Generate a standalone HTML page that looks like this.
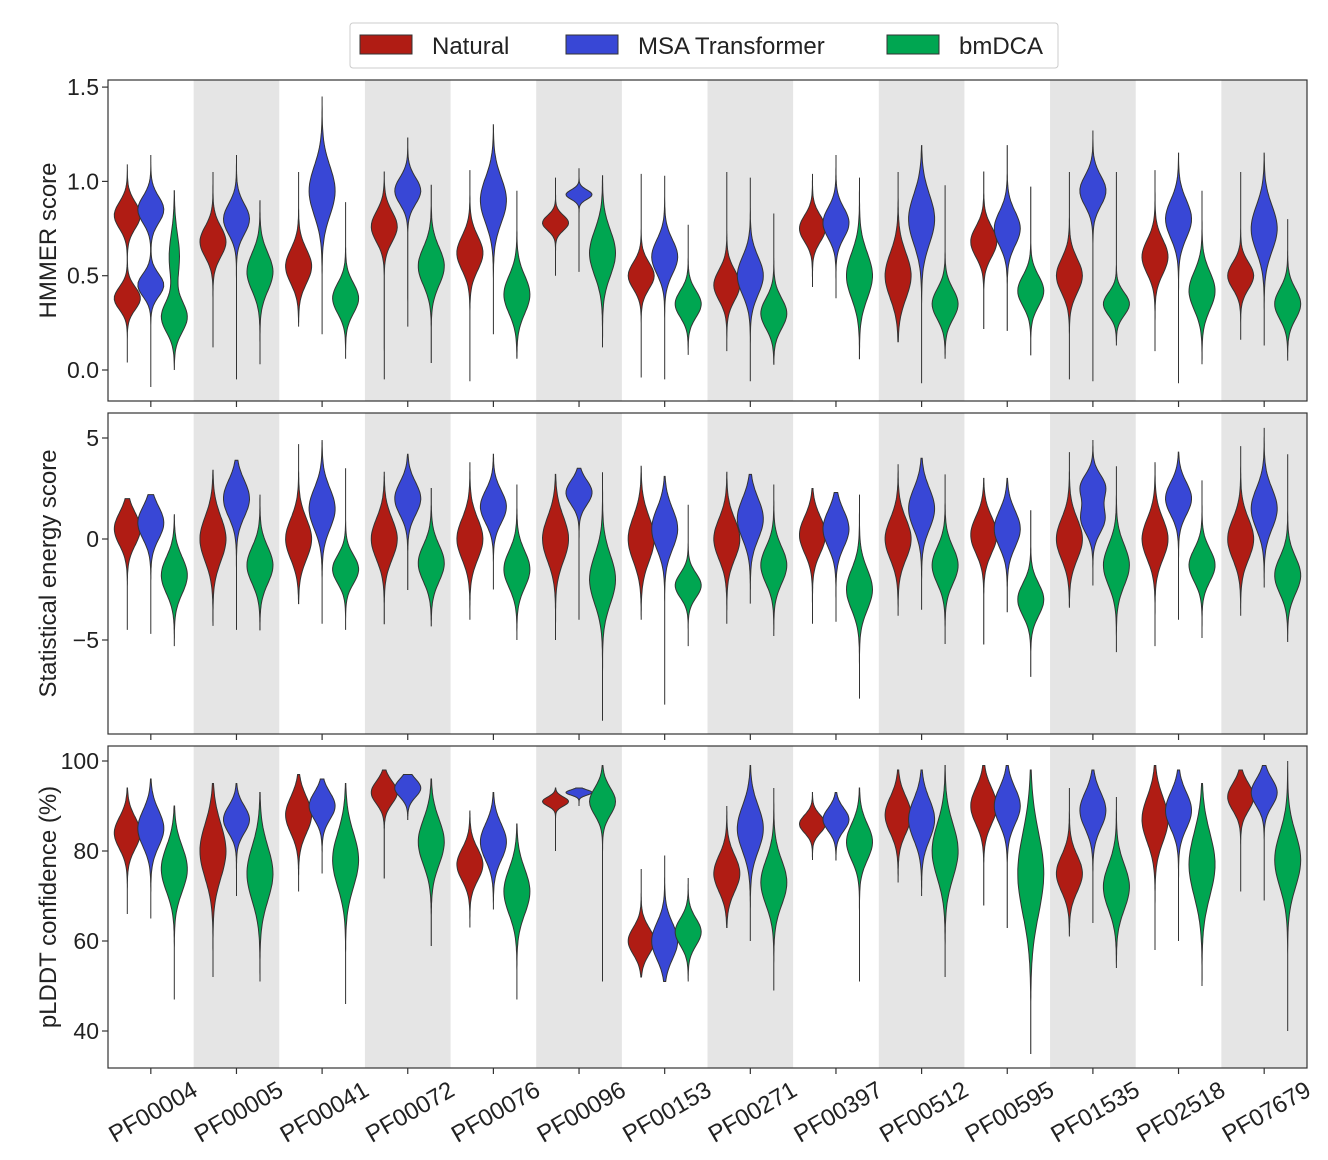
<!DOCTYPE html>
<html><head><meta charset="utf-8"><style>
body{margin:0;background:#fff;}
svg{display:block;font-family:"Liberation Sans",sans-serif;}
</style></head><body>
<svg id="s" width="1328" height="1160" xmlns="http://www.w3.org/2000/svg"></svg>
<script>
const S=document.getElementById('s');
let h='';
const X0=108,X1=1307,GW=(X1-X0)/14;
const names=["PF00004","PF00005","PF00041","PF00072","PF00076","PF00096","PF00153","PF00271","PF00397","PF00512","PF00595","PF01535","PF02518","PF07679"];
const cols=["#b01c14","#3847d6","#00a651"];
const panels=[
 {y0:80,y1:401,map:v=>370-(v-0)*188.6,ticks:[[0,"0.0"],[0.5,"0.5"],[1,"1.0"],[1.5,"1.5"]],label:"HMMER score",data:[
 [[0.04,1.09,[[0.38,.06,1],[0.82,.07,1]]],[-0.09,1.14,[[0.45,.06,1],[0.85,.07,1]]],[0,0.95,[[0.28,.08,1],[0.6,.12,.4]]]],
 [[0.12,1.05,[[0.68,.08,1]]],[-0.05,1.14,[[0.8,.08,1]]],[0.03,0.9,[[0.52,.1,1]]]],
 [[0.23,1.05,[[0.55,.09,1]]],[0.19,1.45,[[0.95,.13,1]]],[0.06,0.89,[[0.38,.08,1]]]],
 [[-0.05,1.05,[[0.76,.08,1]]],[0.23,1.23,[[0.95,.07,1]]],[0.04,0.98,[[0.55,.1,1]]]],
 [[-0.06,1.06,[[0.62,.09,1]]],[0.19,1.3,[[0.9,.12,1]]],[0.06,0.95,[[0.4,.1,1]]]],
 [[0.5,1.02,[[0.78,.04,1]]],[0.52,1.07,[[0.93,.025,1]]],[0.12,1.03,[[0.62,.12,1]]]],
 [[-0.04,1.04,[[0.5,.07,1]]],[-0.05,1.03,[[0.6,.09,1]]],[0.08,0.77,[[0.35,.07,1]]]],
 [[0.1,1.05,[[0.45,.08,1]]],[-0.06,1.02,[[0.5,.1,1]]],[0.03,0.83,[[0.3,.08,1]]]],
 [[0.44,1.04,[[0.75,.07,1]]],[0.38,1.14,[[0.78,.08,1]]],[0.06,1.02,[[0.5,.12,1]]]],
 [[0.15,1.05,[[0.5,.12,1]]],[-0.07,1.19,[[0.8,.13,1]]],[0.06,0.98,[[0.35,.08,1]]]],
 [[0.22,1.05,[[0.68,.08,1]]],[0.21,1.19,[[0.75,.09,1]]],[0.08,0.97,[[0.42,.08,1]]]],
 [[-0.05,1.05,[[0.5,.09,1]]],[-0.06,1.27,[[0.95,.08,1]]],[0.13,1.05,[[0.35,.06,1]]]],
 [[0.1,1.06,[[0.6,.09,1]]],[-0.07,1.15,[[0.8,.1,1]]],[0.03,0.95,[[0.42,.1,1]]]],
 [[0.16,1.05,[[0.5,.07,1]]],[0.13,1.15,[[0.75,.12,1]]],[0.05,0.8,[[0.35,.08,1]]]]]},
 {y0:413,y1:734,map:v=>539-v*20.2,ticks:[[-5,"−5"],[0,"0"],[5,"5"]],label:"Statistical energy score",data:[
 [[-4.5,2,[[0.5,.8,1]]],[-4.7,2.2,[[0.8,.8,1]]],[-5.3,1.2,[[-1.8,.9,1]]]],
 [[-4.3,3.4,[[0,1.1,1]]],[-4.5,3.9,[[2,.9,1]]],[-4.5,2.2,[[-1.3,.9,1]]]],
 [[-3.2,4.7,[[0,1,1]]],[-4.2,4.9,[[1.5,1,1]]],[-4.5,3.5,[[-1.5,.7,1]]]],
 [[-4.2,3.3,[[0,1,1]]],[-2.5,4.2,[[2,.8,1]]],[-4.3,2.5,[[-1.2,.9,1]]]],
 [[-4,3.8,[[0,1,1]]],[-2.5,4.2,[[1.6,.8,1]]],[-5,2.7,[[-1.5,.9,1]]]],
 [[-5,3.2,[[0,1.1,1]]],[-4,3.5,[[2.3,.6,1]]],[-9,3.3,[[-2,1.2,1]]]],
 [[-4,3.6,[[0,1.1,1]]],[-8.2,3.1,[[0.5,1,1]]],[-5.3,1.7,[[-2.3,.6,1]]]],
 [[-4.2,3.3,[[0,1,1]]],[-3.2,3.2,[[1,1,1]]],[-4.8,2.7,[[-1.3,.9,1]]]],
 [[-4.2,2.5,[[0.2,.9,1]]],[-4.1,2.3,[[0.5,.9,1]]],[-7.9,2.2,[[-2.5,1,1]]]],
 [[-3.8,3.7,[[0,1,1]]],[-3.5,4,[[1.5,1,1]]],[-5.2,3.2,[[-1.3,.9,1]]]],
 [[-5.2,3,[[0.2,.9,1]]],[-3.6,3,[[0.5,.9,1]]],[-6.8,1.4,[[-3,.8,1]]]],
 [[-3.4,4.3,[[0,1,1]]],[-2.3,4.9,[[1,.7,1],[2.6,.6,1]]],[-5.6,3.6,[[-1.3,1,1]]]],
 [[-5.3,3.8,[[0,1,1]]],[-4,4.3,[[2,.8,1]]],[-4.9,2.9,[[-1.3,.8,1]]]],
 [[-3.8,4.6,[[0,1,1]]],[-2.4,5.5,[[1.5,1,1]]],[-5.1,4.2,[[-1.8,.9,1]]]]]},
 {y0:746,y1:1068,map:v=>761-(v-100)*4.5,ticks:[[40,"40"],[60,"60"],[80,"80"],[100,"100"]],label:"pLDDT confidence (%)",data:[
 [[66,94,[[84,3.5,1]]],[65,96,[[85,4,1]]],[47,90,[[76,5,1]]]],
 [[52,95,[[80,6,1]]],[70,95,[[87,3,1]]],[51,93,[[75,6,1]]]],
 [[71,97,[[88,4,1]]],[75,96,[[90,3,1]]],[46,95,[[78,6,1]]]],
 [[74,98,[[93,2.5,1]]],[87,97,[[94,2,1]]],[59,96,[[82,5,1]]]],
 [[63,89,[[77,3.5,1]]],[67,93,[[82,4,1]]],[47,86,[[71,5,1]]]],
 [[80,94,[[91,1,1]]],[90,94,[[93,.6,1]]],[51,99,[[91,3,1]]]],
 [[52,76,[[60,3,1]]],[51,79,[[60,4,1]]],[51,74,[[62,3,1]]]],
 [[63,90,[[75,4,1]]],[60,99,[[85,5,1]]],[49,94,[[73,5,1]]]],
 [[78,93,[[86,2,1]]],[78,93,[[87,2.5,1]]],[51,94,[[82,4,1]]]],
 [[73,98,[[88,4,1]]],[70,98,[[87,4.5,1]]],[52,99,[[80,6,1]]]],
 [[68,99,[[90,4,1]]],[63,99,[[90,4,1]]],[35,98,[[75,9,1]]]],
 [[61,94,[[75,4,1]]],[64,98,[[89,4,1]]],[54,92,[[72,5,1]]]],
 [[58,99,[[87,5,1]]],[60,98,[[89,4,1]]],[50,95,[[77,7,1]]]],
 [[71,98,[[92,3,1]]],[69,99,[[93,3,1]]],[40,100,[[78,6,1]]]]]}
];
panels.forEach(p=>{
 for(let i=1;i<14;i+=2){h+=`<rect x="${X0+i*GW}" y="${p.y0}" width="${GW}" height="${p.y1-p.y0}" fill="#e5e5e5"/>`;}
 p.ticks.forEach(t=>{const y=p.map(t[0]);h+=`<line x1="${X0-6}" x2="${X0}" y1="${y}" y2="${y}" stroke="#333" stroke-width="1.2"/><text x="${X0-9}" y="${y+8}" font-size="23" text-anchor="end" fill="#222">${t[1]}</text>`;});
 const cy=(p.y0+p.y1)/2;
 h+=`<text transform="translate(56,${cy}) rotate(-90)" font-size="24" text-anchor="middle" fill="#222">${p.label}</text>`;
 p.data.forEach((g,i)=>{
  const c=X0+GW*(i+0.5);
  g.forEach((v,k)=>{
   const cx=c+(k-1)*23.5;
   const [mn,mx,modes]=v;
   const N=60;let pts=[];let maxd=0;
   for(let j=0;j<=N;j++){const val=mn+(mx-mn)*j/N;let d=0;modes.forEach(m=>{d+=m[2]*Math.exp(-0.5*((val-m[0])/m[1])**2);});pts.push([val,d]);if(d>maxd)maxd=d;}
   let L=[],R=[];
   pts.forEach(q=>{const y=p.map(q[0]);const w=q[1]/maxd*13;R.push(`${(cx+w).toFixed(1)},${y.toFixed(1)}`);L.unshift(`${(cx-w).toFixed(1)},${y.toFixed(1)}`);});
   h+=`<polygon points="${R.join(' ')} ${L.join(' ')}" fill="${cols[k]}" stroke="#333" stroke-width="1"/>`;
  });
 });
 h+=`<rect x="${X0}" y="${p.y0}" width="${X1-X0}" height="${p.y1-p.y0}" fill="none" stroke="#333" stroke-width="1.2"/>`;
 for(let i=0;i<14;i++){const x=X0+GW*(i+0.5);h+=`<line x1="${x}" x2="${x}" y1="${p.y1}" y2="${p.y1+6}" stroke="#333" stroke-width="1.2"/>`;}
});
names.forEach((n,i)=>{const x=X0+GW*(i+0.5)+40;h+=`<text transform="translate(${x},1080) rotate(-30)" font-size="24" text-anchor="end" dominant-baseline="hanging" fill="#222">${n}</text>`;});
h+=`<rect x="350" y="23" width="708" height="45" rx="3" fill="#fff" stroke="#ccc"/>`;
[[360,"Natural"],[566,"MSA Transformer"],[887,"bmDCA"]].forEach((l,k)=>{h+=`<rect x="${l[0]}" y="35" width="52" height="19" fill="${cols[k]}" stroke="#333"/><text x="${l[0]+72}" y="54" font-size="24" fill="#222">${l[1]}</text>`;});
S.innerHTML=h;
</script>
</body></html>
